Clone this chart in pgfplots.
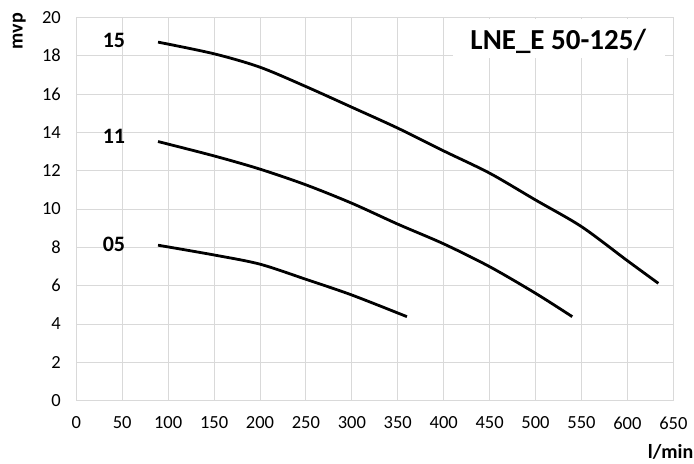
\documentclass[border=0pt]{standalone}
\usepackage{fontspec}
\setmainfont{Carlito}
\usepackage{pgfplots}
\pgfplotsset{compat=1.18}
\definecolor{gridgray}{HTML}{D9D9D9}

\begin{document}
\begin{tikzpicture}[x=1bp,y=1bp]
	\path[use as bounding box] (0,0) rectangle (694,464);
	\begin{axis}[
			at={(76.3bp,63.4bp)}, anchor=south west,
			scale only axis,
			width=597bp, height=383.2bp,
			xmin=0, xmax=650, ymin=0, ymax=20,
			xtick distance=50, ytick distance=2,
			grid=major,
			major grid style={gridgray, line width=0.9bp},
			axis line style={gridgray, line width=0.9bp},
			tick style={draw=none},
			/pgf/number format/assume math mode=true,
			tick label style={font=\fontsize{18.5bp}{20bp}\selectfont},
			xticklabel style={yshift=-12.5bp},
			yticklabel style={xshift=-12bp},
			pump/.style={black, line width=2.8bp, smooth, no marks},
			clip=false,
		]
		\fill[white] (axis cs:410.3,17.89) rectangle (axis cs:641.3,19.93);
		\node[font=\bfseries\fontsize{29bp}{30bp}\selectfont, anchor=base]
			at (axis cs:524.7,18.31) {LNE\_E 50-125/};

		% 15
		\addplot[pump] coordinates {(89,18.71) (150,18.1) (200,17.4) (250,16.39)
				(300,15.31) (350,14.22) (400,13.03) (450,11.87) (500,10.47)
				(550,9.08) (600,7.3) (633.7,6.12)};
		% 11
		\addplot[pump] coordinates {(89,13.52) (150,12.77) (200,12.08) (250,11.26)
				(300,10.30) (350,9.21) (400,8.18) (450,6.99) (500,5.60)
				(540,4.38)};
		% 05
		\addplot[pump] coordinates {(89,8.11) (150,7.60) (200,7.12) (250,6.33)
				(300,5.51) (360,4.38)};

		\node[font=\bfseries\fontsize{22bp}{24bp}\selectfont] at (axis cs:41,18.79) {15};
		\node[font=\bfseries\fontsize{22bp}{24bp}\selectfont] at (axis cs:41,13.80) {11};
		\node[font=\bfseries\fontsize{22bp}{24bp}\selectfont] at (axis cs:41,8.15) {05};
	\end{axis}
	\node[font=\bfseries\fontsize{20bp}{22bp}\selectfont, rotate=90] at (19.2,433) {mvp};
	\node[font=\bfseries\fontsize{20bp}{22bp}\selectfont, anchor=base east, inner sep=0pt] at (693.5,5) {l/min};
\end{tikzpicture}
\end{document}
